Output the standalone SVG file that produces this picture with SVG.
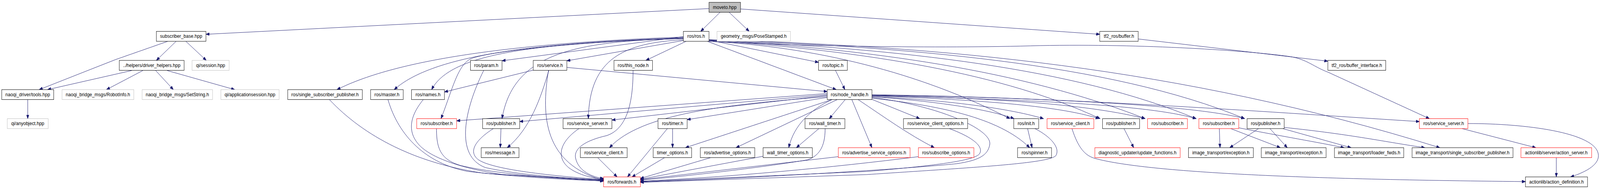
<svg xmlns="http://www.w3.org/2000/svg" width="4615" height="485" viewBox="0 0 4615 485" preserveAspectRatio="none">
<style>
svg{width:min(4615px,100vw);height:485px}
rect{fill:#fff;stroke:#000;stroke-width:1}
.g rect{stroke:#bfbfbf}
.r rect{stroke:#ff0000}
.root rect{fill:#bfbfbf}
text{font-family:"Liberation Sans",Arial,sans-serif;font-size:13.1px;fill:#000;text-anchor:middle}
#edges path{fill:none;stroke:#191970;stroke-width:1;marker-end:url(#a)}
</style>
<defs>
<marker id="a" markerWidth="11" markerHeight="8" refX="10" refY="4" orient="auto" markerUnits="userSpaceOnUse"><path d="M0,0.4 L10,4 L0,7.6 z" fill="#191970" stroke="#191970" stroke-width="1"/></marker>
</defs>
<rect x="0" y="0" width="4615" height="485" style="stroke:none;fill:#fff"/>
<g id="edges">
<path d="M2045,22 L594,88"/>
<path d="M2077,31.5 L2021,80.5"/>
<path d="M2103,31.5 L2161,80.5"/>
<path d="M2136,23 L3172,88"/>
<path d="M484,106 L333,153 L113,230"/>
<path d="M508,106 L451,155"/>
<path d="M536,106 L595,155"/>
<path d="M380,181 L137,230"/>
<path d="M412,181 L307,230"/>
<path d="M449,181 L500,230"/>
<path d="M482,181 L677,230"/>
<path d="M80,255.5 L80,304.5"/>
<path d="M1971,95 C1500,110 1150,150 972,230"/>
<path d="M1971,97 C1550,110 1250,140 1137,230"/>
<path d="M1971,98 C1550,112 1300,135 1245,230"/>
<path d="M1971,99 C1700,105 1420,130 1360,150 C1320,165 1305,230 1272,304.5"/>
<path d="M1971,94 L1448,156"/>
<path d="M1971,104 L1635,156"/>
<path d="M1971,99 C1650,105 1480,140 1448,304.5"/>
<path d="M1971,102 C1800,110 1700,150 1697,304.5"/>
<path d="M1979,106 L1863,155"/>
<path d="M2045,103 L2361,160"/>
<path d="M2040,106 L2412,230"/>
<path d="M2045,106 C2350,120 2650,185 2913,304.5"/>
<path d="M2045,104 C2500,130 2900,190 3173,304.5"/>
<path d="M2045,103 C2500,125 2950,180 3303,304.5"/>
<path d="M2045,103 C2600,125 3100,175 3450,304.5"/>
<path d="M2045,102 C2600,120 3200,160 3590,304.5"/>
<path d="M2045,102 C2700,118 3400,170 4153,379"/>
<path d="M2045,106 C2300,118 2700,125 3000,117 C3300,112 3600,130 3720,145 C3770,152 3790,172 3830,185 L4123,304.5"/>
<path d="M3283,100 L3830,157"/>
<path d="M1538,180 L1282,236"/>
<path d="M1635,173 L2386,235"/>
<path d="M1583,181 C1560,250 1530,330 1463,379"/>
<path d="M1582,181 C1560,300 1570,420 1741,463"/>
<path d="M1395,181 C1340,280 1310,400 1400,430 C1500,450 1650,458 1741,462"/>
<path d="M1119,255.5 C1150,350 1230,420 1350,440 C1500,455 1650,462 1741,464"/>
<path d="M1221,255.5 C1180,300 1175,340 1210,373 C1250,410 1350,435 1450,448 L1741,462"/>
<path d="M950,255.5 C1050,350 1200,420 1400,445 L1741,465"/>
<path d="M1259,330 C1259,380 1270,410 1330,425 C1450,450 1650,460 1741,463"/>
<path d="M1423,330 C1370,360 1350,390 1380,410 C1430,440 1650,455 1741,461"/>
<path d="M1445,330 L1443,379"/>
<path d="M1670,330 C1620,360 1600,400 1640,430 C1670,450 1710,457 1741,460"/>
<path d="M1826,181 C1826,260 1810,330 1750,348 C1690,360 1655,380 1660,405 C1668,440 1710,455 1741,458"/>
<path d="M1724,404.5 L1780,454"/>
<path d="M1925,330 L1810,454"/>
<path d="M1917,404.5 L1823,454"/>
<path d="M2050,404.5 L1847,458"/>
<path d="M2201,401 L1847,460"/>
<path d="M2380,330 C2380,380 2360,400 2330,410 C2200,430 1950,455 1847,462"/>
<path d="M2418,402 L1847,461"/>
<path d="M2649,402 C2400,430 2100,455 1847,465"/>
<path d="M2738,330 C2800,350 2840,375 2825,395 C2810,412 2700,425 2500,440 L1847,466"/>
<path d="M2515,250 C2700,270 2860,330 2855,370 C2850,400 2820,412 2760,420 C2600,435 2100,460 1847,467"/>
<path d="M2985,330 C3030,350 3060,380 3045,400 C3020,420 2800,430 2500,448 L1847,468"/>
<path d="M2386,240 L1317,310"/>
<path d="M2386,243 L1499,312"/>
<path d="M2386,245 L1765,308"/>
<path d="M2386,248 C2100,268 1850,290 1758,379"/>
<path d="M2386,250 L1982,307"/>
<path d="M2400,255.5 L1977,379"/>
<path d="M2415,255.5 L2123,379"/>
<path d="M2400,255.5 C2340,280 2290,320 2275,379"/>
<path d="M2438,255.5 L2392,304.5"/>
<path d="M2457,255.5 L2515,379"/>
<path d="M2475,255.5 C2550,300 2620,345 2695,379"/>
<path d="M2515,255 L2653,304.5"/>
<path d="M2515,248 C2700,260 2850,280 2925,304.5"/>
<path d="M2515,252 C2700,270 2880,300 2970,379"/>
<path d="M2515,248 C2700,255 2900,275 3010,304.5"/>
<path d="M2515,246 C2800,255 3050,270 3170,304.5"/>
<path d="M2515,245 C2900,252 3150,270 3303,304.5"/>
<path d="M2515,245 C2900,255 3300,265 3450,304.5"/>
<path d="M2515,244 C3000,250 3450,270 3590,304.5"/>
<path d="M2515,243 C3100,250 3700,290 4094,312"/>
<path d="M2410,181 L2437,230"/>
<path d="M1940,330 L1940,379"/>
<path d="M2362,330 L2297,379"/>
<path d="M2964,330 L2977,379"/>
<path d="M3242,330 L3270,379"/>
<path d="M3517,330 L3519,379"/>
<path d="M3630,330 L3547,379"/>
<path d="M3550,330 L3693,379"/>
<path d="M3663,330 L3713,379"/>
<path d="M3573,328 C3700,350 3800,365 3877,379"/>
<path d="M3700,330 L3897,379"/>
<path d="M3704,327 C3900,345 4000,365 4110,379"/>
<path d="M3092,330 C3110,380 3130,400 3160,407 C3300,440 3700,460 4400,466"/>
<path d="M4234,317 C4400,317 4600,340 4610,395 C4615,420 4580,440 4530,454"/>
<path d="M4217,330 L4430,379"/>
<path d="M4489,404.5 L4489,454"/>
</g>
<g id="n_moveto" class="root"><rect x="2045" y="6" width="91" height="25.5"/><text x="2090.5" y="22.7">moveto.hpp</text></g>
<g id="n_subbase"><rect x="451" y="80.5" width="143" height="25.5"/><text x="522.5" y="97.2">subscriber_base.hpp</text></g>
<g id="n_ros"><rect x="1971" y="80.5" width="74" height="25.5"/><text x="2008" y="97.2">ros/ros.h</text></g>
<g id="n_pose" class="g"><rect x="2068" y="80.5" width="212" height="25.5"/><text x="2174" y="97.2">geometry_msgs/PoseStamped.h</text></g>
<g id="n_tf2buf"><rect x="3172" y="80.5" width="111" height="25.5"/><text x="3227.5" y="97.2">tf2_ros/buffer.h</text></g>
<g id="n_helpers"><rect x="344" y="155" width="187" height="25.5"/><text x="437.5" y="171.7">../helpers/driver_helpers.hpp</text></g>
<g id="n_session" class="g"><rect x="554" y="155" width="107" height="25.5"/><text x="607.5" y="171.7">qi/session.hpp</text></g>
<g id="n_param"><rect x="1357" y="155" width="91" height="25.5"/><text x="1402.5" y="171.7">ros/param.h</text></g>
<g id="n_service"><rect x="1538" y="155" width="97" height="25.5"/><text x="1586.5" y="171.7">ros/service.h</text></g>
<g id="n_thisnode"><rect x="1771" y="155" width="111" height="25.5"/><text x="1826.5" y="171.7">ros/this_node.h</text></g>
<g id="n_topic"><rect x="2361" y="155" width="83" height="25.5"/><text x="2402.5" y="171.7">ros/topic.h</text></g>
<g id="n_bufif"><rect x="3830" y="155" width="167" height="25.5"/><text x="3913.5" y="171.7">tf2_ros/buffer_interface.h</text></g>
<g id="n_tools"><rect x="5" y="230" width="150" height="25.5"/><text x="80" y="246.7">naoqi_driver/tools.hpp</text></g>
<g id="n_robotinfo" class="g"><rect x="179" y="230" width="207" height="25.5"/><text x="282.5" y="246.7">naoqi_bridge_msgs/RobotInfo.h</text></g>
<g id="n_setstring" class="g"><rect x="410" y="230" width="203" height="25.5"/><text x="511.5" y="246.7">naoqi_bridge_msgs/SetString.h</text></g>
<g id="n_appsession" class="g"><rect x="637" y="230" width="168" height="25.5"/><text x="721" y="246.7">qi/applicationsession.hpp</text></g>
<g id="n_ssp"><rect x="830" y="230" width="215" height="25.5"/><text x="937.5" y="246.7">ros/single_subscriber_publisher.h</text></g>
<g id="n_master"><rect x="1069" y="230" width="94" height="25.5"/><text x="1116" y="246.7">ros/master.h</text></g>
<g id="n_names"><rect x="1187" y="230" width="95" height="25.5"/><text x="1234.5" y="246.7">ros/names.h</text></g>
<g id="n_nh"><rect x="2386" y="230" width="129" height="25.5"/><text x="2450.5" y="246.7">ros/node_handle.h</text></g>
<g id="n_anyobj" class="g"><rect x="21" y="304.5" width="118" height="25.5"/><text x="80" y="321.2">qi/anyobject.hpp</text></g>
<g id="n_sub1" class="r"><rect x="1202" y="304.5" width="115" height="25.5"/><text x="1259.5" y="321.2">ros/subscriber.h</text></g>
<g id="n_pub1"><rect x="1392" y="304.5" width="107" height="25.5"/><text x="1445.5" y="321.2">ros/publisher.h</text></g>
<g id="n_srvsrv1"><rect x="1624" y="304.5" width="141" height="25.5"/><text x="1694.5" y="321.2">ros/service_server.h</text></g>
<g id="n_timer"><rect x="1898" y="304.5" width="84" height="25.5"/><text x="1940" y="321.2">ros/timer.h</text></g>
<g id="n_walltimer"><rect x="2322" y="304.5" width="115" height="25.5"/><text x="2379.5" y="321.2">ros/wall_timer.h</text></g>
<g id="n_sco"><rect x="2606" y="304.5" width="185" height="25.5"/><text x="2698.5" y="321.2">ros/service_client_options.h</text></g>
<g id="n_init"><rect x="2924" y="304.5" width="72" height="25.5"/><text x="2960" y="321.2">ros/init.h</text></g>
<g id="n_srvcli2" class="r"><rect x="3020" y="304.5" width="135" height="25.5"/><text x="3087.5" y="321.2">ros/service_client.h</text></g>
<g id="n_pub2"><rect x="3180" y="304.5" width="107" height="25.5"/><text x="3233.5" y="321.2">ros/publisher.h</text></g>
<g id="n_sub2" class="r"><rect x="3310" y="304.5" width="115" height="25.5"/><text x="3367.5" y="321.2">ros/subscriber.h</text></g>
<g id="n_sub3" class="r"><rect x="3458" y="304.5" width="115" height="25.5"/><text x="3515.5" y="321.2">ros/subscriber.h</text></g>
<g id="n_pub3"><rect x="3597" y="304.5" width="107" height="25.5"/><text x="3650.5" y="321.2">ros/publisher.h</text></g>
<g id="n_srvsrv2" class="r"><rect x="4094" y="304.5" width="140" height="25.5"/><text x="4164" y="321.2">ros/service_server.h</text></g>
<g id="n_message"><rect x="1388" y="379" width="109" height="25.5"/><text x="1442.5" y="395.7">ros/message.h</text></g>
<g id="n_srvcli1"><rect x="1674" y="379" width="135" height="25.5"/><text x="1741.5" y="395.7">ros/service_client.h</text></g>
<g id="n_timeropt"><rect x="1884" y="379" width="111" height="25.5"/><text x="1939.5" y="395.7">timer_options.h</text></g>
<g id="n_advopt"><rect x="2020" y="379" width="157" height="25.5"/><text x="2098.5" y="395.7">ros/advertise_options.h</text></g>
<g id="n_wtopt"><rect x="2201" y="379" width="142" height="25.5"/><text x="2272" y="395.7">wall_timer_options.h</text></g>
<g id="n_asopt" class="r"><rect x="2418" y="379" width="207" height="25.5"/><text x="2521.5" y="395.7">ros/advertise_service_options.h</text></g>
<g id="n_subopt" class="r"><rect x="2649" y="379" width="160" height="25.5"/><text x="2729" y="395.7">ros/subscribe_options.h</text></g>
<g id="n_spinner"><rect x="2935" y="379" width="98" height="25.5"/><text x="2984" y="395.7">ros/spinner.h</text></g>
<g id="n_diag" class="r"><rect x="3158" y="379" width="246" height="25.5"/><text x="3281" y="395.7">diagnostic_updater/update_functions.h</text></g>
<g id="n_exc1"><rect x="3428" y="379" width="187" height="25.5"/><text x="3521.5" y="395.7">image_transport/exception.h</text></g>
<g id="n_exc2"><rect x="3638" y="379" width="187" height="25.5"/><text x="3731.5" y="395.7">image_transport/exception.h</text></g>
<g id="n_loader"><rect x="3849" y="379" width="200" height="25.5"/><text x="3949" y="395.7">image_transport/loader_fwds.h</text></g>
<g id="n_itssp"><rect x="4073" y="379" width="291" height="25.5"/><text x="4218.5" y="395.7">image_transport/single_subscriber_publisher.h</text></g>
<g id="n_actsrv" class="r"><rect x="4387" y="379" width="204" height="25.5"/><text x="4489" y="395.7">actionlib/server/action_server.h</text></g>
<g id="n_fwd" class="r"><rect x="1741" y="454" width="106" height="25.5"/><text x="1794" y="470.7">ros/forwards.h</text></g>
<g id="n_actdef"><rect x="4400" y="454" width="179" height="25.5"/><text x="4489.5" y="470.7">actionlib/action_definition.h</text></g>
</svg>
